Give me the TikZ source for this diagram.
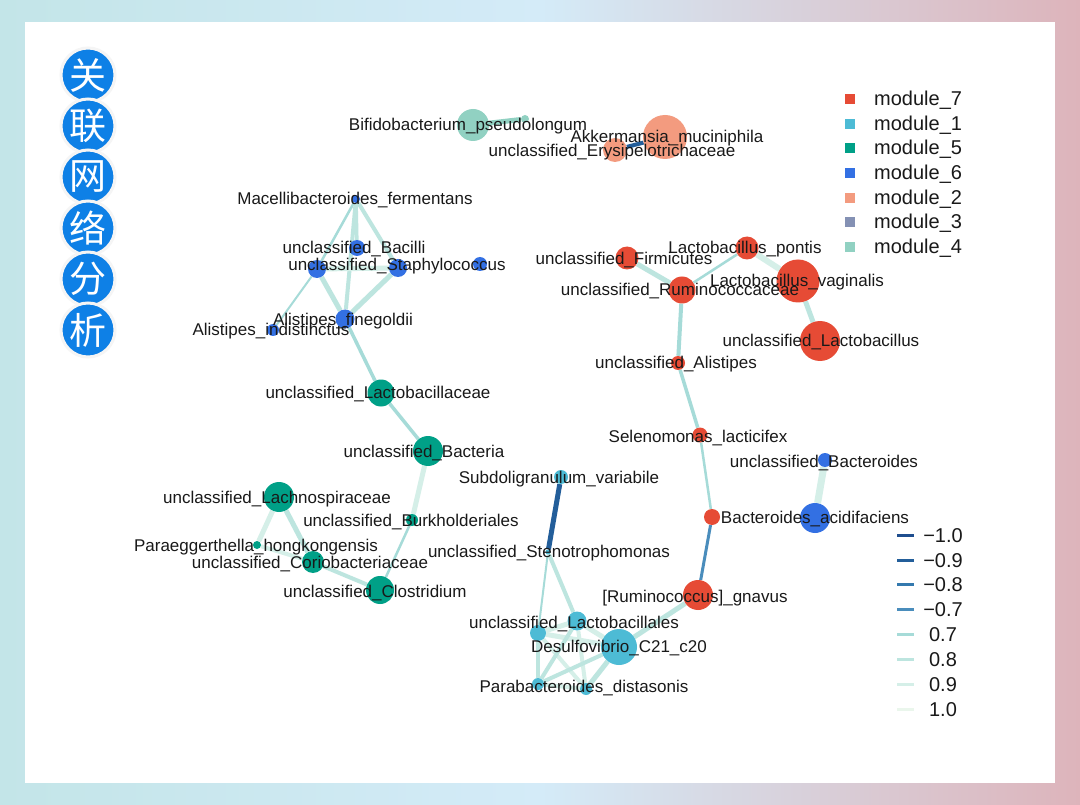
\documentclass[tikz,border=0pt]{standalone}
\usepackage{fontspec}
\setmainfont{Liberation Sans}
\newfontfamily\cjkfont{Noto Sans CJK SC}
\pgfdeclarelayer{bglayer}
\pgfdeclarelayer{edgelayer}
\pgfsetlayers{bglayer,edgelayer,main}
\definecolor{c7}{HTML}{E64B35}
\definecolor{c1}{HTML}{4DBBD5}
\definecolor{c5}{HTML}{00A087}
\definecolor{c6}{HTML}{3370E3}
\definecolor{c2}{HTML}{F39B7F}
\definecolor{c3}{HTML}{8491B4}
\definecolor{c4}{HTML}{91D1C2}
\definecolor{n10}{HTML}{1F4E8E}
\definecolor{n09}{HTML}{235E9A}
\definecolor{n08}{HTML}{3479AE}
\definecolor{n07}{HTML}{4A8DBC}
\definecolor{p07}{HTML}{A6DBD8}
\definecolor{p08}{HTML}{BDE5DF}
\definecolor{p09}{HTML}{D5EFE8}
\definecolor{p10}{HTML}{EAF6EC}
\definecolor{badgeblue}{HTML}{0E80E6}
\definecolor{bgL}{HTML}{C3E5E8}
\definecolor{bgM}{HTML}{D4EBF8}
\definecolor{bgR}{HTML}{DDB4BB}
\begin{document}
\begin{tikzpicture}[x=1pt,y=-1pt,
  nd/.style={circle,inner sep=0pt,draw=none,minimum size=#1},
  m7/.style={nd=#1,fill=c7}, m1/.style={nd=#1,fill=c1}, m5/.style={nd=#1,fill=c5},
  m6/.style={nd=#1,fill=c6}, m2/.style={nd=#1,fill=c2}, m4/.style={nd=#1,fill=c4},
  lab/.style={font=\fontsize{17}{17}\selectfont,inner sep=0pt,text height=12pt,text depth=0pt,text=black!90},
  legtxt/.style={font=\fontsize{20}{20}\selectfont,inner sep=0pt,text height=14pt,text depth=0pt,text=black!90},
  legsq/.style={rectangle,inner sep=0pt,minimum size=10pt,draw=none},
  swatch/.style={rectangle,inner sep=0pt,minimum width=17pt,minimum height=3pt,draw=none},
  badge/.style={circle,inner sep=0pt,minimum size=54pt,fill=badgeblue,draw=gray!8,line width=3pt,text=white,font=\cjkfont\fontsize{37}{37}\selectfont},
  ek/.style n args={2}{draw=#1,line width=#2pt}
]
\useasboundingbox (0,0) rectangle (1080,805);
\begin{pgfonlayer}{bglayer}
\shade[left color=bgL,right color=bgR,middle color=bgM] (0,0) rectangle (1080,805);
\fill[white] (25,22) rectangle (1055,783);
\end{pgfonlayer}

% title badges
\node[badge] (b1) at (88,75) {关};
\node[badge] (b2) at (88,126) {联};
\node[badge] (b3) at (88,177) {网};
\node[badge] (b4) at (88,228) {络};
\node[badge] (b5) at (88,279) {分};
\node[badge] (b6) at (88,330) {析};

% module 4
\node[m4=32pt] (bifido) at (473,125) {};
\node[m4=8pt] (bifs) at (525,119) {};
% module 2
\node[m2=44pt] (akk) at (665,137) {};
\node[m2=24pt] (ery) at (615,150) {};
% module 6
\node[m6=8pt] (macel) at (356,199) {};
\node[m6=16pt] (bacil) at (357,248) {};
\node[m6=18pt] (lft) at (317,269) {};
\node[m6=18pt] (staph) at (398,268) {};
\node[m6=14pt] (sx) at (480,264) {};
\node[m6=19pt] (fine) at (345,319) {};
\node[m6=12pt] (indis) at (273,330) {};
\node[m6=14pt] (bacteroides) at (825,460) {};
\node[m6=30pt] (acid) at (815,518) {};
% module 5
\node[m5=27pt] (lacto) at (381,393) {};
\node[m5=30pt] (bact) at (428,451) {};
\node[m5=30pt] (lachno) at (279,497) {};
\node[m5=12pt] (burk) at (412,520) {};
\node[m5=8pt] (para) at (257,545) {};
\node[m5=22pt] (corio) at (313,562) {};
\node[m5=28pt] (clost) at (380,590) {};
% module 7
\node[m7=23pt] (firm) at (627,258) {};
\node[m7=23pt] (pontis) at (747,248) {};
\node[m7=27pt] (rumino) at (682,290) {};
\node[m7=43pt] (vag) at (798,281) {};
\node[m7=40pt] (ulacto) at (820,341) {};
\node[m7=14pt] (alist) at (678,363) {};
\node[m7=15pt] (selen) at (700,435) {};
\node[m7=16pt] (redacid) at (712,517) {};
\node[m7=30pt] (gnavus) at (698,595) {};
% module 1
\node[m1=14pt] (subd) at (561,477) {};
\node[m1=5pt] (steno) at (548,552) {};
\node[m1=19pt] (lactales) at (577,621) {};
\node[m1=16pt] (lft1) at (538,633) {};
\node[m1=36pt] (desulfo) at (619,647) {};
\node[m1=12pt] (parab1) at (538,684) {};
\node[m1=12pt] (parab2) at (586,689) {};

\begin{pgfonlayer}{edgelayer}
\draw[ek={c4}{5}] (bifido) -- (bifs);
\draw[ek={n09}{4}] (akk) -- (ery);
% module 6
\draw[ek={p07}{2.5}] (macel) -- (lft);
\draw[ek={p08}{3.5}] (macel) -- (bacil);
\draw[ek={p08}{4}] (macel) -- (fine);
\draw[ek={p08}{4}] (macel) -- (staph);
\draw[ek={p07}{2}] (lft) -- (indis);
\draw[ek={p08}{5}] (lft) -- (fine);
\draw[ek={p09}{5}] (lft) -- (staph);
\draw[ek={p08}{5}] (staph) -- (fine);
\draw[ek={p07}{3.5}] (fine) -- (lacto);
\draw[ek={p09}{7}] (bacteroides) -- (acid);
% module 5
\draw[ek={p07}{3.5}] (lacto) -- (bact);
\draw[ek={p09}{5}] (bact) -- (burk);
\draw[ek={p07}{2.5}] (burk) -- (clost);
\draw[ek={p09}{5}] (lachno) -- (para);
\draw[ek={p08}{5}] (lachno) -- (corio);
\draw[ek={p09}{4}] (para) -- (corio);
\draw[ek={p08}{4}] (corio) -- (clost);
% module 7
\draw[ek={p08}{5}] (firm) -- (rumino);
\draw[ek={p07}{2.5}] (rumino) -- (pontis);
\draw[ek={p09}{6}] (pontis) -- (vag);
\draw[ek={p08}{5}] (vag) -- (ulacto);
\draw[ek={p07}{4}] (rumino) -- (alist);
\draw[ek={p07}{3.5}] (alist) -- (selen);
\draw[ek={p07}{2.5}] (selen) -- (redacid);
\draw[ek={n07}{3}] (redacid) -- (gnavus);
\draw[ek={p08}{5}] (gnavus) -- (desulfo);
% module 1
\draw[ek={n09}{5}] (subd) -- (steno);
\draw[ek={p07}{2}] (steno) -- (lft1);
\draw[ek={p08}{4}] (steno) -- (lactales);
\draw[ek={p09}{5}] (lft1) -- (lactales);
\draw[ek={p09}{5}] (lft1) -- (desulfo);
\draw[ek={p08}{4}] (lft1) -- (parab1);
\draw[ek={p09}{4}] (lft1) -- (parab2);
\draw[ek={p08}{4}] (lactales) -- (parab1);
\draw[ek={p09}{5}] (lactales) -- (desulfo);
\draw[ek={p09}{4}] (lactales) -- (parab2);
\draw[ek={p08}{4}] (desulfo) -- (parab1);
\draw[ek={p08}{5}] (desulfo) -- (parab2);
\draw[ek={p09}{4}] (parab1) -- (parab2);
\end{pgfonlayer}

% labels
\node[lab] (t1) at (468,125) {Bifidobacterium\_pseudolongum};
\node[lab] (t2) at (667,137) {Akkermansia\_muciniphila};
\node[lab] (t3) at (612,151) {unclassified\_Erysipelotrichaceae};
\node[lab] (t4) at (355,199) {Macellibacteroides\_fermentans};
\node[lab] (t5) at (354,248) {unclassified\_Bacilli};
\node[lab] (t6) at (397,265) {unclassified\_Staphylococcus};
\node[lab] (t7) at (343,320) {Alistipes\_finegoldii};
\node[lab] (t8) at (271,330) {Alistipes\_indistinctus};
\node[lab] (t9) at (378,393) {unclassified\_Lactobacillaceae};
\node[lab] (t10) at (424,451) {unclassified\_Bacteria};
\node[lab] (t11) at (277,497) {unclassified\_Lachnospiraceae};
\node[lab] (t12) at (411,520) {unclassified\_Burkholderiales};
\node[lab] (t13) at (256,545) {Paraeggerthella\_hongkongensis};
\node[lab] (t14) at (310,562) {unclassified\_Coriobacteriaceae};
\node[lab] (t15) at (375,591) {unclassified\_Clostridium};
\node[lab] (t16) at (624,259) {unclassified\_Firmicutes};
\node[lab] (t17) at (745,248) {Lactobacillus\_pontis};
\node[lab] (t18) at (680,290) {unclassified\_Ruminococcaceae};
\node[lab] (t19) at (797,281) {Lactobacillus\_vaginalis};
\node[lab] (t20) at (821,340) {unclassified\_Lactobacillus};
\node[lab] (t21) at (676,363) {unclassified\_Alistipes};
\node[lab] (t22) at (698,436) {Selenomonas\_lacticifex};
\node[lab] (t23) at (824,461) {unclassified\_Bacteroides};
\node[lab] (t24) at (815,517) {Bacteroides\_acidifaciens};
\node[lab] (t25) at (695,596) {[Ruminococcus]\_gnavus};
\node[lab] (t26) at (559,477) {Subdoligranulum\_variabile};
\node[lab] (t27) at (549,551) {unclassified\_Stenotrophomonas};
\node[lab] (t28) at (574,622) {unclassified\_Lactobacillales};
\node[lab] (t29) at (619,646) {Desulfovibrio\_C21\_c20};
\node[lab] (t30) at (584,686) {Parabacteroides\_distasonis};

% module legend
\node[legsq,fill=c7] (q7) at (850,99) {};
\node[legsq,fill=c1] (q1) at (850,124) {};
\node[legsq,fill=c5] (q5) at (850,148) {};
\node[legsq,fill=c6] (q6) at (850,173) {};
\node[legsq,fill=c2] (q2) at (850,198) {};
\node[legsq,fill=c3] (q3) at (850,222) {};
\node[legsq,fill=c4] (q4) at (850,247) {};
\node[legtxt,anchor=west] (l7) at (874,99) {module\_7};
\node[legtxt,anchor=west] (l1) at (874,124) {module\_1};
\node[legtxt,anchor=west] (l5) at (874,148) {module\_5};
\node[legtxt,anchor=west] (l6) at (874,173) {module\_6};
\node[legtxt,anchor=west] (l2) at (874,198) {module\_2};
\node[legtxt,anchor=west] (l3) at (874,222) {module\_3};
\node[legtxt,anchor=west] (l4) at (874,247) {module\_4};

% edge legend
\node[swatch,fill=n10] (s1) at (905,535) {};
\node[swatch,fill=n09] (s2) at (905,560) {};
\node[swatch,fill=n08] (s3) at (905,584) {};
\node[swatch,fill=n07] (s4) at (905,609) {};
\node[swatch,fill=p07] (s5) at (905,634) {};
\node[swatch,fill=p08] (s6) at (905,659) {};
\node[swatch,fill=p09] (s7) at (905,684) {};
\node[swatch,fill=p10] (s8) at (905,709) {};
\node[legtxt] (v1) at (943,535) {−1.0};
\node[legtxt] (v2) at (943,560) {−0.9};
\node[legtxt] (v3) at (943,584) {−0.8};
\node[legtxt] (v4) at (943,609) {−0.7};
\node[legtxt] (v5) at (943,634) {0.7};
\node[legtxt] (v6) at (943,659) {0.8};
\node[legtxt] (v7) at (943,684) {0.9};
\node[legtxt] (v8) at (943,709) {1.0};
\end{tikzpicture}
\end{document}
